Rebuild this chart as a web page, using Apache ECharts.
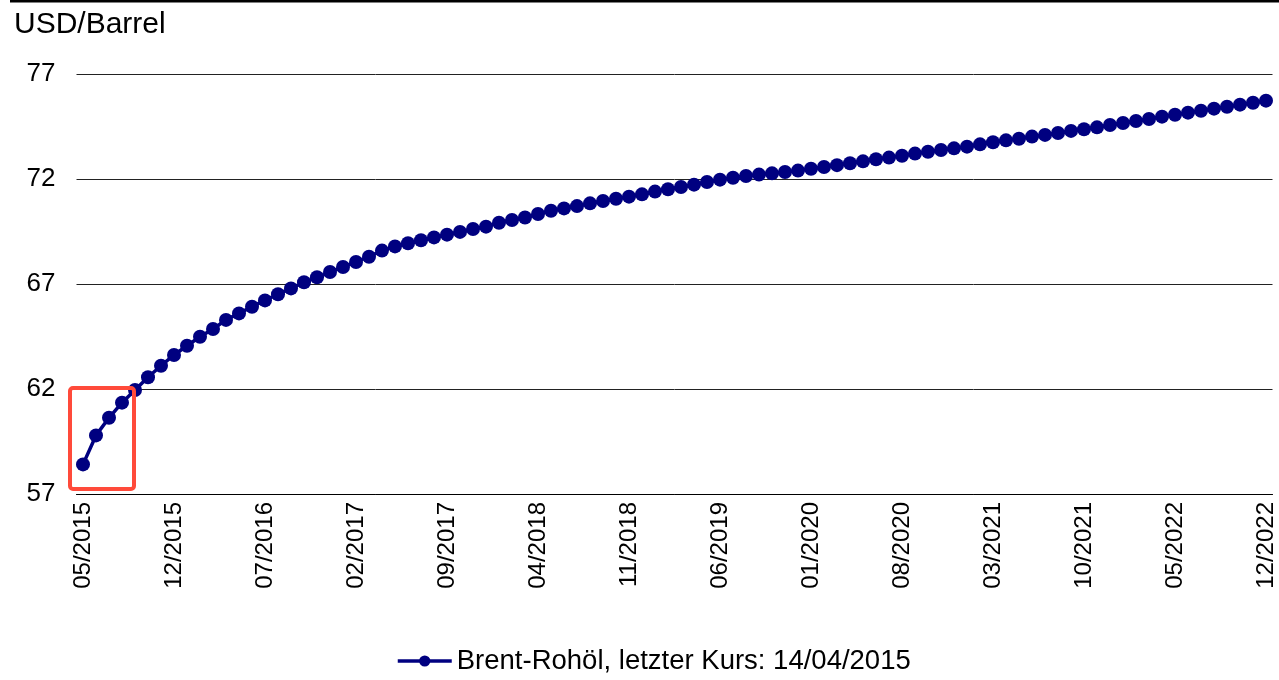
<!DOCTYPE html>
<html>
<head>
<meta charset="utf-8">
<script src="https://cdn.jsdelivr.net/npm/echarts@6/dist/echarts.min.js"></script>
<style>
  html, body { margin: 0; padding: 0; background: #fff; }
  #chart { width: 1279px; height: 680px; }
</style>
</head>
<body>
<div id="chart"></div>
<script>
// Monatskategorien 05/2015 - 12/2022
var startYear = 2015, startMonth = 5, monthCount = 92
var months = []
for (var i = 0; i < monthCount; i++) {
  var m = (startMonth - 1 + i) % 12 + 1
  var y = startYear + Math.floor((startMonth - 1 + i) / 12)
  months.push((m < 10 ? '0' : '') + m + '/' + y)
}

var brentValues = [
  58.41, 59.79, 60.63, 61.35, 61.95, 62.56, 63.11, 63.62, 64.06, 64.49,
  64.86, 65.29, 65.60, 65.92, 66.22, 66.51, 66.79, 67.08, 67.32, 67.57,
  67.81, 68.05, 68.30, 68.59, 68.79, 68.94, 69.08, 69.22, 69.35, 69.48,
  69.62, 69.73, 69.92, 70.05, 70.17, 70.33, 70.49, 70.60, 70.71, 70.84,
  70.95, 71.06, 71.16, 71.27, 71.40, 71.51, 71.62, 71.73, 71.86, 71.97,
  72.06, 72.14, 72.21, 72.27, 72.33, 72.40, 72.49, 72.57, 72.66, 72.75,
  72.84, 72.94, 73.02, 73.11, 73.21, 73.30, 73.38, 73.46, 73.54, 73.65,
  73.75, 73.84, 73.92, 74.02, 74.10, 74.19, 74.29, 74.37, 74.46, 74.57,
  74.67, 74.76, 74.86, 74.97, 75.06, 75.16, 75.25, 75.35, 75.44, 75.54,
  75.63, 75.73
]

var seriesName = 'Brent-Rohöl, letzter Kurs: 14/04/2015'
var unitLabel = 'USD/Barrel'
var yMin = 57, yMax = 77, yStep = 5
// markierter Bereich (erste Monate)
var boxFromIdx = 0, boxToIdx = 4, boxTop = 62.05, boxBottom = 57.24

var font = 'Liberation Sans, Arial, sans-serif'
var chart = echarts.init(document.getElementById('chart'))

var options = {
  animation: false,
  textStyle: { fontFamily: font },
  title: {
    text: unitLabel,
    left: 9,
    top: 5,
    textStyle: { fontSize: 30, fontWeight: 'normal', color: '#000', fontFamily: font }
  },
  grid: {
    left: 76.5,
    right: 6.5,
    top: 74,
    bottom: 186
  },
  legend: {
    bottom: 0,
    left: 391,
    itemWidth: 54,
    itemHeight: 14,
    itemGap: 5,
    lineStyle: { width: 3.5 },
    textStyle: { fontSize: 27.5, color: '#000', fontFamily: font },
    data: [seriesName]
  },
  xAxis: {
    type: 'category',
    data: months,
    boundaryGap: true,
    axisLine: { lineStyle: { color: '#000', width: 1 } },
    axisTick: {
      interval: 6,
      length: 8,
      lineStyle: { color: '#777' }
    },
    axisLabel: {
      interval: 6,
      rotate: 90,
      margin: 8,
      fontSize: 24,
      color: '#000',
      fontFamily: font
    }
  },
  yAxis: {
    type: 'value',
    min: yMin,
    max: yMax,
    interval: yStep,
    axisLine: { show: false },
    axisTick: { show: false },
    axisLabel: { fontSize: 26, color: '#000', margin: 21, fontFamily: font },
    splitLine: { lineStyle: { color: '#222', width: 1 } }
  },
  series: [{
    name: seriesName,
    type: 'line',
    data: brentValues,
    symbol: 'circle',
    symbolSize: 14,
    showAllSymbol: true,
    color: '#000080',
    lineStyle: { color: '#000080', width: 3.5 },
    itemStyle: { color: '#000080' }
  }]
}

chart.setOption(options)

// Rahmen oben + roter Markierungsrahmen
var p0 = chart.convertToPixel({ xAxisIndex: 0, yAxisIndex: 0 }, [boxFromIdx, boxTop])
var p1 = chart.convertToPixel({ xAxisIndex: 0, yAxisIndex: 0 }, [boxToIdx, boxBottom])
var bx = p0[0] - 13, by = p0[1]
chart.setOption({
  graphic: [
    {
      type: 'line',
      shape: { x1: 10, y1: 1, x2: 1279, y2: 1 },
      style: { stroke: '#000', lineWidth: 3 }
    },
    {
      type: 'rect',
      z: 100,
      shape: { x: bx, y: by, width: (p1[0] - 1) - bx, height: p1[1] - by, r: 3 },
      style: { fill: 'none', stroke: '#ff4a3a', lineWidth: 4 }
    }
  ]
})

window.addEventListener('resize', function () {
  chart.resize()
}, false)
</script>
</body>
</html>
